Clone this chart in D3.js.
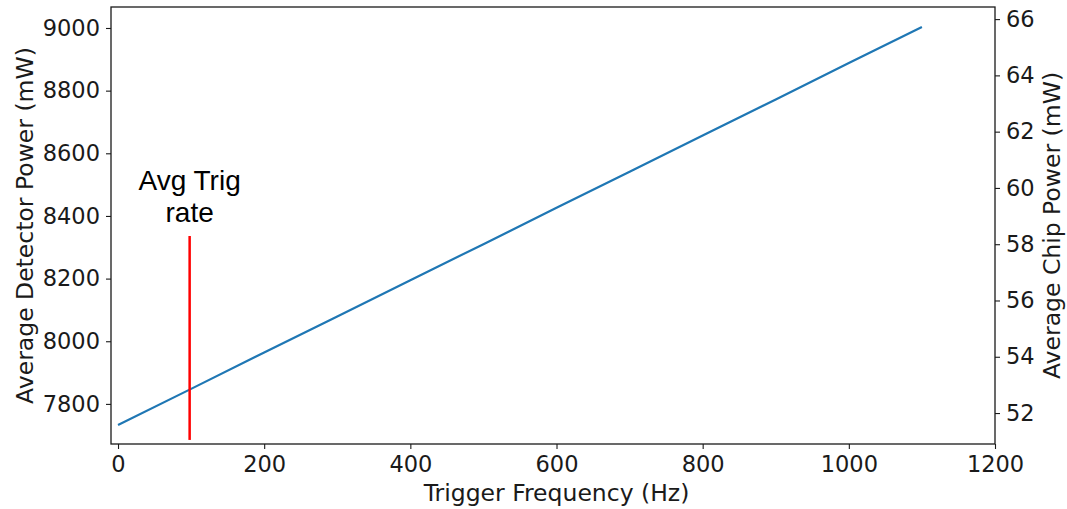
<!DOCTYPE html>
<html>
<head>
<meta charset="utf-8">
<script src="https://cdn.jsdelivr.net/npm/d3@7"></script>
<style>
  body { margin: 0; background: #fff; }
  text { font-family: "DejaVu Sans", sans-serif; fill: #1a1a1a; }
  .tick text { font-size: 22.5px; }
  .axis-label { font-size: 23.5px; }
  .note { font-family: "Liberation Sans", Arial, sans-serif; font-size: 28px; fill: #000; }
</style>
</head>
<body>
<div id="chart"></div>
<script>
// trigger frequency (Hz) and average detector power (mW)
var freq = [0, 100, 200, 300, 400, 500, 600, 700, 800, 900, 1000, 1100];
var detPower = [7733, 7848, 7964, 8079, 8195, 8310, 8426, 8541, 8657, 8772, 8888, 9003];

var xTicks = [0, 200, 400, 600, 800, 1000, 1200];
var leftTicks = [7800, 8000, 8200, 8400, 8600, 8800, 9000];
var rightTicks = [52, 54, 56, 58, 60, 62, 64, 66];

// average trigger rate marker
var avgTrig = 98;
var avgTrigSpan = [7685, 8336];

var width = 1067, height = 509;
var margin = {top: 7, right: 72, bottom: 65, left: 111};
var chartWidth = width - margin.left - margin.right,
    chartHeight = height - margin.top - margin.bottom;

var svg = d3.select("#chart").append("svg")
    .attr("width", width)
    .attr("height", height);

var g = svg.append("g").attr("transform", "translate(" + margin.left + "," + margin.top + ")");

var x = d3.scaleLinear().domain([-9.6, 1200]).range([0, chartWidth]);
var y = d3.scaleLinear().domain([7672, 9067]).range([chartHeight, 0]);
var y2 = d3.scaleLinear().domain([50.9, 66.43]).range([chartHeight, 0]);

function styleAxis(sel) {
  sel.select(".domain").remove();
  sel.selectAll(".tick line").attr("stroke", "#1a1a1a").attr("stroke-width", 1.1);
}

g.append("g")
    .attr("transform", "translate(0," + chartHeight + ")")
    .call(d3.axisBottom(x).tickValues(xTicks).tickFormat(d3.format("d")).tickSize(5).tickPadding(7))
    .call(styleAxis);

g.append("g")
    .call(d3.axisLeft(y).tickValues(leftTicks).tickFormat(d3.format("d")).tickSize(5).tickPadding(6))
    .call(styleAxis);

g.append("g")
    .attr("transform", "translate(" + chartWidth + ",0)")
    .call(d3.axisRight(y2).tickValues(rightTicks).tickFormat(d3.format("d")).tickSize(5).tickPadding(6))
    .call(styleAxis);

// frame
g.append("rect")
    .attr("width", chartWidth)
    .attr("height", chartHeight)
    .attr("fill", "none")
    .attr("stroke", "#1a1a1a")
    .attr("stroke-width", 1.3);

var line = d3.line()
    .x(function(d, i) { return x(freq[i]); })
    .y(function(d) { return y(d); });

g.append("path")
    .datum(detPower)
    .attr("fill", "none")
    .attr("stroke", "#1f77b4")
    .attr("stroke-width", 2.2)
    .attr("d", line);

g.append("line")
    .attr("x1", x(avgTrig)).attr("x2", x(avgTrig))
    .attr("y1", y(avgTrigSpan[0])).attr("y2", y(avgTrigSpan[1]))
    .attr("stroke", "#ff0000")
    .attr("stroke-width", 2.5);

g.append("text")
    .attr("class", "note")
    .attr("text-anchor", "middle")
    .attr("x", x(avgTrig))
    .attr("y", y(avgTrigSpan[1]) - 46)
    .text("Avg Trig");
g.append("text")
    .attr("class", "note")
    .attr("text-anchor", "middle")
    .attr("x", x(avgTrig))
    .attr("y", y(avgTrigSpan[1]) - 14)
    .text("rate");

// axis labels
svg.append("text")
    .attr("class", "axis-label")
    .attr("text-anchor", "middle")
    .attr("x", margin.left + x(600))
    .attr("y", 501)
    .text("Trigger Frequency (Hz)");

svg.append("text")
    .attr("class", "axis-label")
    .attr("text-anchor", "middle")
    .attr("transform", "translate(33," + (margin.top + chartHeight / 2) + ") rotate(-90)")
    .text("Average Detector Power (mW)");

svg.append("text")
    .attr("class", "axis-label")
    .attr("text-anchor", "middle")
    .attr("transform", "translate(1060," + (margin.top + chartHeight / 2) + ") rotate(-90)")
    .text("Average Chip Power (mW)");
</script>
</body>
</html>
